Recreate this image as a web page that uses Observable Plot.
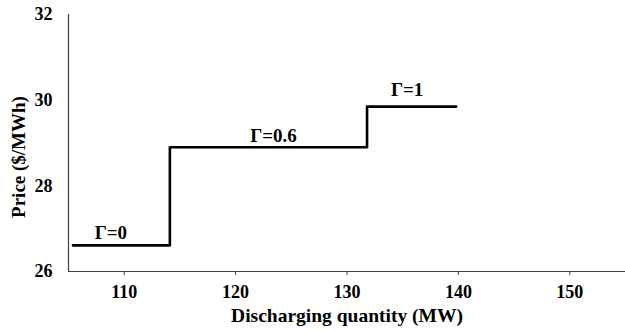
<!DOCTYPE html>
<html>
<head>
<meta charset="utf-8">
<script src="https://cdn.jsdelivr.net/npm/d3@7"></script>
<script src="https://cdn.jsdelivr.net/npm/@observablehq/plot@0.6"></script>
<style>
  html, body { margin: 0; padding: 0; background: #fff; }
  svg.plot-chart, svg.plot-chart text { font-family: "Liberation Serif", "DejaVu Serif", serif !important; font-weight: bold !important; }
</style>
</head>
<body>
<div id="chart"></div>
<script>
// Step curve (step-after)
const stepQuantity = [105.4, 114.1, 131.8, 139.8];
const stepPrice = [26.61, 28.90, 29.85, 29.85];

// Segment labels
const labelText = ["Γ=0", "Γ=0.6", "Γ=1"];
const labelQuantity = [108.8, 123.4, 135.4];
const labelPrice = [26.61, 28.90, 29.85];
const labelDy = [-12, -11, -17];

const xTicks = [110, 120, 130, 140, 150];
const yTicks = [26, 28, 30, 32];

const xTitle = "Discharging quantity (MW)";
const yTitle = "Price ($/MWh)";

const FONT = "Liberation Serif";

const stepData = stepQuantity.map((q, i) => ({q, p: stepPrice[i]}));
const labelData = labelText.map((t, i) => ({t, q: labelQuantity[i], p: labelPrice[i], dy: labelDy[i]}));

const chart = Plot.plot({
  className: "plot-chart",
  width: 625,
  height: 330,
  marginLeft: 68,
  marginRight: 0,
  marginTop: 14,
  marginBottom: 59,
  style: {fontSize: "18px", fontFamily: FONT, color: "#000", background: "#fff"},
  x: {domain: [105, 155]},
  y: {domain: [26, 32]},
  marks: [
    Plot.ruleY([26], {stroke: "#404040", strokeWidth: 1.2}),
    Plot.ruleX([105], {stroke: "#404040", strokeWidth: 1.2}),
    Plot.axisX(xTicks, {tickSize: 4, tickPadding: 10, stroke: "#404040", fill: "#000", fontSize: 18, fontFamily: FONT, fontWeight: "bold", label: null}),
    Plot.axisY(yTicks, {tickSize: 0, tickPadding: 16, fill: "#000", fontSize: 18, fontFamily: FONT, fontWeight: "bold", label: null}),
    Plot.line(stepData, {x: "q", y: "p", curve: "step-after", stroke: "#000", strokeWidth: 2.6}),
    ...labelData.map(d => Plot.text([d], {x: "q", y: "p", text: "t", dy: d.dy, fontSize: 19, fontFamily: FONT, fontWeight: "bold", fill: "#000"})),
    Plot.text([xTitle], {frameAnchor: "bottom", lineAnchor: "middle", dy: 44, fontSize: 19.5, fontFamily: FONT, fontWeight: "bold", fill: "#000"}),
    Plot.text([yTitle], {frameAnchor: "middle", textAnchor: "middle", dx: -328, dy: 14, rotate: -90, fontSize: 19, fontFamily: FONT, fontWeight: "bold", fill: "#000"})
  ]
});
// make sure the rotated y title is centred on its anchor
d3.select(chart).selectAll("text")
  .filter(function () { return this.textContent === yTitle; })
  .attr("text-anchor", "middle");
document.getElementById("chart").appendChild(chart);
</script>
</body>
</html>
